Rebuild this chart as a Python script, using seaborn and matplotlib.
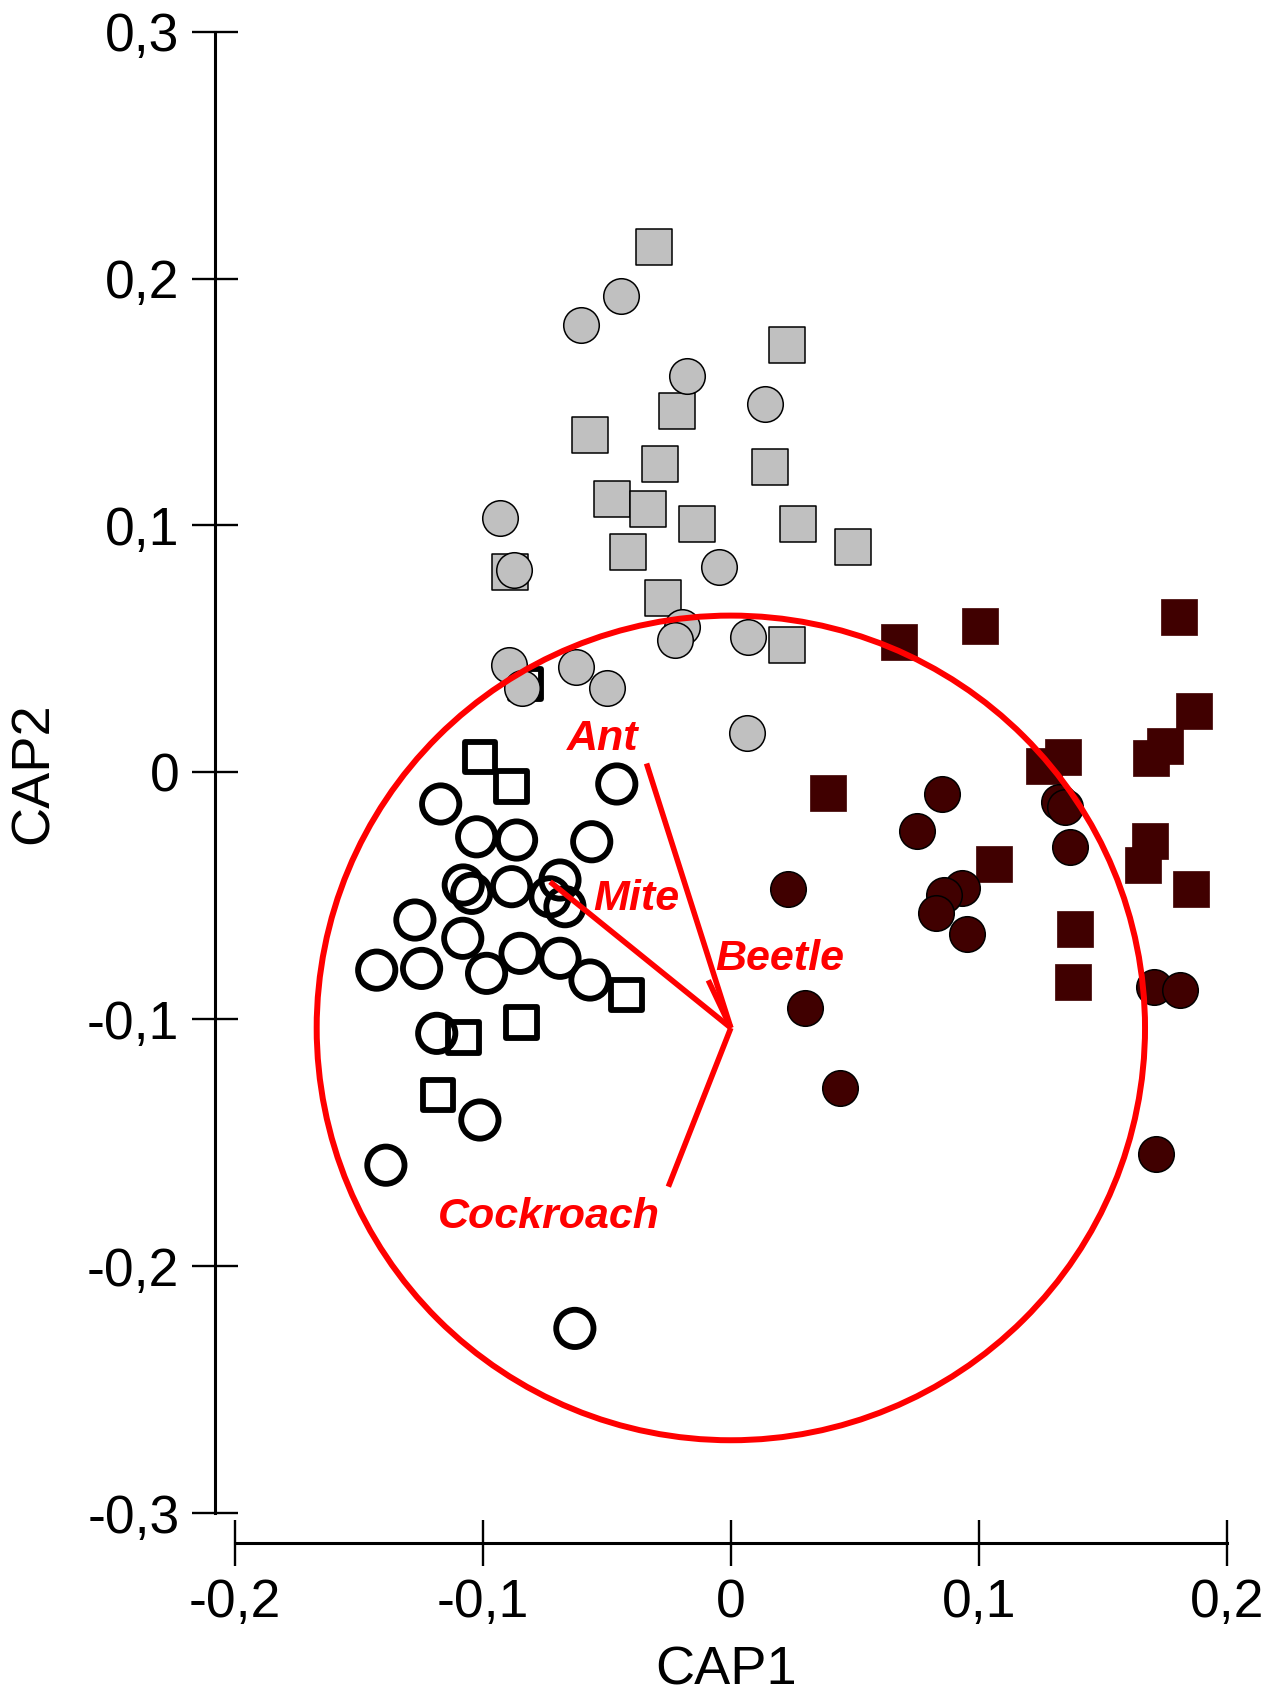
import matplotlib
matplotlib.use("Agg")
import matplotlib.pyplot as plt
from matplotlib.patches import Circle
import pandas as pd
import seaborn as sns

# ---- sample scores on the first two canonical axes, per group ----
gray_sq_x = [-0.0309, 0.0226, -0.0219, -0.0569, -0.0285, 0.0156, -0.0478, -0.0336,
             -0.0137, 0.0271, 0.0494, -0.0415, -0.0892, -0.0273, 0.0228]
gray_sq_y = [0.2128, 0.1729, 0.1465, 0.1365, 0.1251, 0.1238, 0.1106, 0.1068,
             0.1008, 0.1006, 0.0912, 0.0891, 0.0810, 0.0705, 0.0516]

gray_ci_x = [-0.0442, -0.0603, -0.0177, 0.0139, -0.0932, -0.0873, -0.0049, -0.0894,
             -0.0844, -0.0625, -0.0501, -0.0195, -0.0225, 0.0070, 0.0064]
gray_ci_y = [0.1929, 0.1812, 0.1606, 0.1492, 0.1031, 0.0819, 0.0833, 0.0435,
             0.0340, 0.0428, 0.0340, 0.0590, 0.0536, 0.0549, 0.0158]

dark_sq_x = [0.0677, 0.1003, 0.1809, 0.1869, 0.1750, 0.1693, 0.1339, 0.1264,
             0.0391, 0.1690, 0.1663, 0.1060, 0.1857, 0.1387, 0.1380]
dark_sq_y = [0.0527, 0.0593, 0.0630, 0.0250, 0.0107, 0.0057, 0.0063, 0.0026,
             -0.0085, -0.0278, -0.0375, -0.0371, -0.0474, -0.0636, -0.0851]

dark_ci_x = [0.0851, 0.0749, 0.1324, 0.1346, 0.1366, 0.0231, 0.0931, 0.0861,
             0.0828, 0.0954, 0.0300, 0.0439, 0.1707, 0.1812, 0.1716]
dark_ci_y = [-0.0088, -0.0236, -0.0119, -0.0139, -0.0304, -0.0473, -0.0470, -0.0497,
             -0.0571, -0.0655, -0.0956, -0.1280, -0.0869, -0.0882, -0.1547]

open_ci_x = [-0.0460, -0.1170, -0.1025, -0.0864, -0.0561, -0.1079, -0.1045, -0.0884,
             -0.0689, -0.0729, -0.0669, -0.1274, -0.1081, -0.0850, -0.0689, -0.1428,
             -0.1247, -0.0985, -0.0568, -0.1186, -0.1012, -0.1391, -0.0629]
open_ci_y = [-0.0047, -0.0128, -0.0261, -0.0274, -0.0281, -0.0456, -0.0490, -0.0463,
             -0.0436, -0.0504, -0.0544, -0.0598, -0.0672, -0.0733, -0.0753, -0.0801,
             -0.0794, -0.0814, -0.0841, -0.1057, -0.1408, -0.1591, -0.2252]

open_sq_x = [-0.1012, -0.0884, -0.0420, -0.0844, -0.1079, -0.1180, -0.0828]
open_sq_y = [0.0063, -0.0058, -0.0902, -0.1014, -0.1073, -0.1307, 0.0358]

# ---- variable vectors (correlation circle) ----
vec_names = ["Ant", "Mite", "Beetle", "Cockroach"]
vec_end_x = [-0.0340, -0.0729, -0.0091, -0.0252]
vec_end_y = [0.0036, -0.0443, -0.0842, -0.1678]
vec_label_x = [-0.0516, -0.0383, 0.0198, -0.0733]
vec_label_y = [0.0090, -0.0557, -0.0801, -0.1847]
circle_center = (0.0, -0.1035)
circle_radius = 0.167

# ---- axis ticks ----
x_ticks = [-0.2, -0.1, 0.0, 0.1, 0.2]
x_tick_labels = ["-0,2", "-0,1", "0", "0,1", "0,2"]
y_ticks = [-0.3, -0.2, -0.1, 0.0, 0.1, 0.2, 0.3]
y_tick_labels = ["-0,3", "-0,2", "-0,1", "0", "0,1", "0,2", "0,3"]

sns.set_style("ticks")
plt.rcParams["font.family"] = ["Liberation Sans", "DejaVu Sans"]

fig = plt.figure(figsize=(12.84, 16.94), dpi=100)
ax = fig.add_axes([0.1829, 0.1068, 0.7726, 0.8745])

GRAY = "#c0c0c0"
DARK = "#400000"
RED = "#ff0000"

def frame(xs, ys):
    return pd.DataFrame({"CAP1": xs, "CAP2": ys})

# filled groups
sns.scatterplot(data=frame(gray_sq_x, gray_sq_y), x="CAP1", y="CAP2", marker="s",
                s=655, color=GRAY, edgecolor="black", linewidth=1.1, ax=ax, zorder=2)
sns.scatterplot(data=frame(gray_ci_x, gray_ci_y), x="CAP1", y="CAP2", marker="o",
                s=655, color=GRAY, edgecolor="black", linewidth=1.1, ax=ax, zorder=3)
sns.scatterplot(data=frame(dark_sq_x, dark_sq_y), x="CAP1", y="CAP2", marker="s",
                s=672, color=DARK, edgecolor=DARK, linewidth=0.5, ax=ax, zorder=2)
sns.scatterplot(data=frame(dark_ci_x, dark_ci_y), x="CAP1", y="CAP2", marker="o",
                s=655, color=DARK, edgecolor="black", linewidth=1.1, ax=ax, zorder=3)
# open groups
sns.scatterplot(data=frame(open_sq_x, open_sq_y), x="CAP1", y="CAP2", marker="s",
                s=482, facecolor="none", edgecolor="black", linewidth=4.2, ax=ax, zorder=1)
sns.scatterplot(data=frame(open_ci_x, open_ci_y), x="CAP1", y="CAP2", marker="o",
                s=720, facecolor="none", edgecolor="black", linewidth=4.2, ax=ax, zorder=2)

# correlation circle and vectors
ax.add_patch(Circle(circle_center, circle_radius, fill=False, edgecolor=RED,
                    linewidth=4.3, zorder=5))
for ex, ey, lx, ly, name in zip(vec_end_x, vec_end_y, vec_label_x, vec_label_y, vec_names):
    ax.plot([circle_center[0], ex], [circle_center[1], ey], color=RED,
            linewidth=4.0, solid_capstyle="butt", zorder=5)
    ax.text(lx, ly, name, ha="center", va="baseline", color=RED, fontsize=31,
            fontweight="bold", fontstyle="italic", zorder=6)

ax.set_xlim(-0.2, 0.2)
ax.set_ylim(-0.3, 0.3)
ax.set_xticks(x_ticks)
ax.set_xticklabels(x_tick_labels)
ax.set_yticks(y_ticks)
ax.set_yticklabels(y_tick_labels)

for side in ("top", "right"):
    ax.spines[side].set_visible(False)
ax.spines["left"].set_position(("outward", 14.4))
ax.spines["bottom"].set_position(("outward", 21.6))
for side in ("left", "bottom"):
    ax.spines[side].set_linewidth(2.2)
    ax.spines[side].set_color("black")

ax.tick_params(axis="both", direction="inout", length=33, width=1.7, color="black",
               labelsize=38.5, labelcolor="black", pad=9, bottom=True, left=True,
               top=False, right=False)

ax.set_xlabel("CAP1", fontsize=39, color="black")
ax.set_ylabel("CAP2", fontsize=39, color="black")
ax.xaxis.set_label_coords(0.4954, -0.106)
ax.yaxis.set_label_coords(-0.2025, 0.4995)
ax.xaxis.label.set_va("center")
ax.yaxis.label.set_va("center")
ax.yaxis.label.set_ha("center")

fig.savefig("out.png", dpi=100)
